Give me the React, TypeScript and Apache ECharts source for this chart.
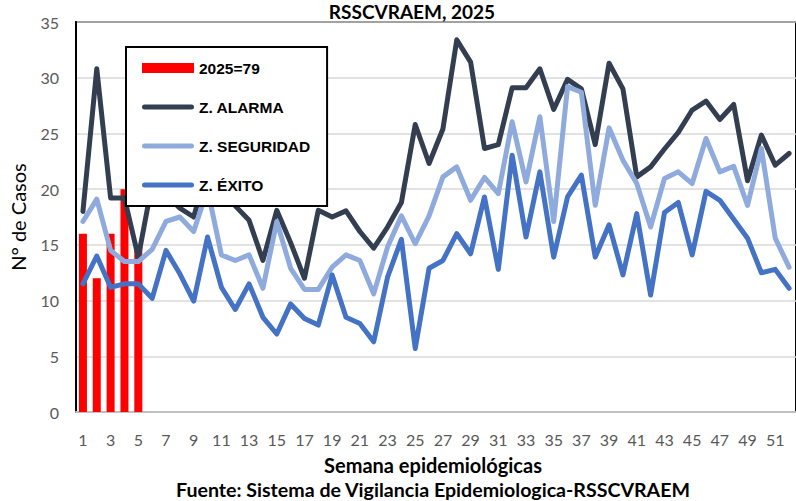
import React, { useEffect, useRef } from "react";
import * as echarts from "echarts";

const weeks = [
  "1","2","3","4","5","6","7","8","9","10","11","12","13","14","15","16","17","18","19","20",
  "21","22","23","24","25","26","27","28","29","30","31","32","33","34","35","36","37","38","39","40",
  "41","42","43","44","45","46","47","48","49","50","51","52",
];

const cases2025 = [16, 12, 16, 20, 15];

const alarma = [
  18.0, 30.8, 19.2, 19.2, 13.9, 20.5, 19.5, 18.3, 17.5, 22.0,
  20.0, 18.5, 17.2, 13.6, 18.1, 15.2, 12.0, 18.1, 17.5, 18.05,
  16.2, 14.7, 16.6, 18.8, 25.8, 22.3, 25.4, 33.4, 31.4, 23.65,
  24.0, 29.1, 29.1, 30.8, 27.15, 29.85, 29.0, 24.0, 31.3, 29.0,
  21.1, 22.0, 23.6, 25.1, 27.1, 27.9, 26.25, 27.6, 20.75, 24.85,
  22.15, 23.2,
];

const seguridad = [
  17.1, 19.1, 14.5, 13.5, 13.5, 14.6, 17.1, 17.5, 16.2, 20.0,
  14.1, 13.6, 14.1, 11.1, 17.1, 12.9, 11.0, 11.0, 13.0, 14.1,
  13.6, 10.6, 14.8, 17.6, 15.1, 17.6, 21.1, 22.0, 19.0, 21.05,
  19.6, 26.05, 20.65, 26.5, 17.1, 29.2, 28.7, 18.55, 25.5, 22.6,
  20.5, 16.6, 20.95, 21.55, 20.5, 24.55, 21.55, 22.05, 18.55, 23.65,
  15.6, 13.0,
];

const exito = [
  11.5, 14.0, 11.2, 11.5, 11.5, 10.2, 14.5, 12.4, 9.95, 15.7,
  11.2, 9.2, 11.5, 8.5, 7.0, 9.7, 8.4, 7.8, 12.3, 8.5,
  7.95, 6.3, 12.1, 15.5, 5.7, 12.9, 13.6, 16.0, 14.2, 19.3,
  12.8, 23.05, 15.7, 21.55, 13.9, 19.3, 21.25, 13.9, 16.8, 12.3,
  17.8, 10.5, 17.9, 18.8, 14.1, 19.8, 19.0, 17.3, 15.6, 12.5,
  12.8, 11.1,
];

const seriesNames = ["2025=79", "Z. ALARMA", "Z. SEGURIDAD", "Z. ÉXITO"];
const titleText = "RSSCVRAEM, 2025";
const xName = "Semana epidemiológicas";
const yName = "N° de Casos";
const sourceText = "Fuente: Sistema de Vigilancia Epidemiologica-RSSCVRAEM";

const lineIcon = "path://M2.5,0h47a2.5,2.5 0 0 1 0,5h-47a2.5,2.5 0 0 1 0,-5z";

export default function App() {
  const ref = useRef<HTMLDivElement>(null);

  useEffect(() => {
    if (!ref.current) return;
    const chart = echarts.init(ref.current, null, { renderer: "svg" });
    const lineBase = {
      type: "line",
      symbol: "none",
      showSymbol: false,
      smooth: false,
    };
    chart.setOption({
      animation: false,
      backgroundColor: "#ffffff",
      grid: {
        left: 75,
        top: 22,
        right: -7,
        bottom: 89,
        show: true,
        borderColor: "#000000",
        borderWidth: 2,
        backgroundColor: "transparent",
      },
      legend: {
        orient: "vertical",
        left: 126,
        top: 47,
        padding: [13, 17, 13, 16],
        backgroundColor: "#ffffff",
        borderColor: "#000000",
        borderWidth: 2,
        itemWidth: 52,
        itemHeight: 10,
        itemGap: 23,
        symbolKeepAspect: true,
        textStyle: {
          fontFamily: "Liberation Sans, Arial, sans-serif",
          fontWeight: "bold",
          fontSize: 15.5,
          color: "#000000",
        },
        data: [
          { name: seriesNames[0], icon: "rect" },
          { name: seriesNames[1], icon: lineIcon },
          { name: seriesNames[2], icon: lineIcon },
          { name: seriesNames[3], icon: lineIcon },
        ],
      },
      xAxis: {
        type: "category",
        data: weeks,
        boundaryGap: true,
        axisLine: { show: true, lineStyle: { color: "#BFBFBF", width: 2 } },
        axisTick: { show: false },
        axisLabel: {
          interval: 1,
          color: "#595959",
          fontSize: 16,
          fontFamily: "Lato, sans-serif",
          margin: 19,
        },
        splitLine: { show: false },
      },
      yAxis: {
        type: "value",
        min: 0,
        max: 35,
        interval: 5,
        name: yName,
        nameLocation: "middle",
        nameRotate: 90,
        nameGap: 48,
        nameTextStyle: {
          fontFamily: "Lato, sans-serif",
          fontSize: 20,
          color: "#000000",
        },
        axisLine: { show: true, lineStyle: { color: "#000000", width: 2 } },
        axisTick: { show: false },
        axisLabel: {
          color: "#595959",
          fontSize: 16,
          fontFamily: "Lato, sans-serif",
          margin: 17,
        },
        splitLine: { show: true, lineStyle: { color: "#D9D9D9", width: 1.5 } },
      },
      graphic: [
        {
          type: "text",
          style: {
            x: 412,
            y: 11,
            text: titleText,
            textAlign: "center",
            textVerticalAlign: "middle",
            font: "bold 19px Lato, sans-serif",
            fill: "#000000",
          },
          z: 100,
        },
        {
          type: "text",
          style: {
            x: 433,
            y: 465,
            text: xName,
            textAlign: "center",
            textVerticalAlign: "middle",
            font: "bold 20px Lato, sans-serif",
            fill: "#000000",
          },
        },
        {
          type: "text",
          style: {
            x: 433,
            y: 489,
            text: sourceText,
            textAlign: "center",
            textVerticalAlign: "middle",
            font: "bold 19.6px Lato, sans-serif",
            fill: "#000000",
          },
        },
      ],
      series: [
        {
          name: seriesNames[0],
          type: "bar",
          data: cases2025,
          barWidth: 8,
          itemStyle: { color: "#FF0000" },
          z: 1,
        },
        {
          ...lineBase,
          name: seriesNames[1],
          data: alarma,
          itemStyle: { color: "#333F50" },
          lineStyle: { color: "#333F50", width: 5, join: "round", cap: "round" },
          z: 2,
        },
        {
          ...lineBase,
          name: seriesNames[2],
          data: seguridad,
          itemStyle: { color: "#8FAADC" },
          lineStyle: { color: "#8FAADC", width: 5, join: "round", cap: "round" },
          z: 3,
        },
        {
          ...lineBase,
          name: seriesNames[3],
          data: exito,
          itemStyle: { color: "#4472C4" },
          lineStyle: { color: "#4472C4", width: 5, join: "round", cap: "round" },
          z: 4,
        },
      ],
    });
    return () => chart.dispose();
  }, []);

  return (
    <div
      ref={ref}
      style={{ position: "fixed", left: 0, top: 0, width: 796, height: 501 }}
    />
  );
}
